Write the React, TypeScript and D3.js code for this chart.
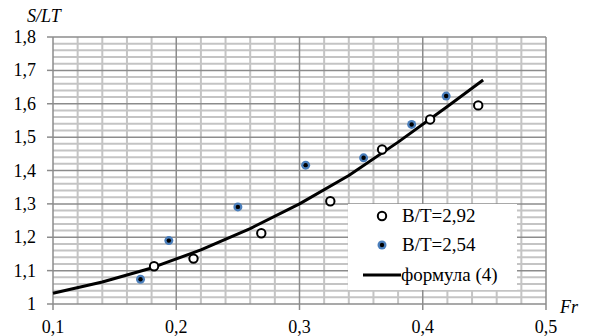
import React from "react";
import * as d3 from "d3";

const xTicks = [0.1, 0.2, 0.3, 0.4, 0.5];
const yTicks = [1, 1.1, 1.2, 1.3, 1.4, 1.5, 1.6, 1.7, 1.8];
const xTickLabels = ["0,1", "0,2", "0,3", "0,4", "0,5"];
const yTickLabels = ["1", "1,1", "1,2", "1,3", "1,4", "1,5", "1,6", "1,7", "1,8"];

const s292Fr = [0.182, 0.214, 0.269, 0.325, 0.367, 0.406, 0.445];
const s292Val = [1.113, 1.136, 1.212, 1.308, 1.463, 1.553, 1.595];

const s254Fr = [0.171, 0.194, 0.25, 0.305, 0.352, 0.391, 0.419];
const s254Val = [1.074, 1.19, 1.291, 1.416, 1.438, 1.538, 1.623];

const fFr = [0.1, 0.14, 0.18, 0.22, 0.26, 0.3, 0.34, 0.38, 0.42, 0.449];
const fVal = [1.032, 1.066, 1.108, 1.162, 1.226, 1.3, 1.385, 1.485, 1.592, 1.671];

const W = 590, H = 336;
const FONT = `"Liberation Serif"`;

export default function App() {
  const x = d3.scaleLinear().domain([0.1, 0.5]).range([53, 546]);
  const y = d3.scaleLinear().domain([1, 1.8]).range([304, 37]);

  const minorX = d3.range(0, 21).map((i) => 0.1 + i * 0.02).filter((_, i) => i % 5 !== 0);
  const minorY = d3.range(0, 41).map((i) => 1 + i * 0.02).filter((_, i) => i % 5 !== 0);

  const line = d3
    .line<number>()
    .x((_, i) => x(fFr[i]))
    .y((d) => y(d));

  const legX = 348, legY = 204, legW = 169, legH = 86;
  const tick = { fontFamily: FONT, fontSize: "18px" };
  const ital = { fontFamily: FONT, fontSize: "18px", fontStyle: "italic" };
  const leg = { fontFamily: FONT, fontSize: "19px" };

  return (
    <svg width={W} height={H} style={{ position: "absolute", left: 0, top: 0, display: "block", background: "#fff", fontFamily: FONT }}>
      {minorX.map((v, i) => (
        <line key={"mx" + i} x1={x(v)} x2={x(v)} y1={y(1.8)} y2={y(1)} stroke="#c4c4c4" strokeWidth={2} />
      ))}
      {minorY.map((v, i) => (
        <line key={"my" + i} x1={x(0.1)} x2={x(0.5)} y1={y(v)} y2={y(v)} stroke="#c4c4c4" strokeWidth={2} />
      ))}
      {xTicks.map((v, i) => (
        <line key={"gx" + i} x1={x(v)} x2={x(v)} y1={y(1.8)} y2={y(1)} stroke="#8c8c8c" strokeWidth={1.5} />
      ))}
      {yTicks.map((v, i) => (
        <line key={"gy" + i} x1={x(0.1)} x2={x(0.5)} y1={y(v)} y2={y(v)} stroke="#8c8c8c" strokeWidth={1.5} />
      ))}
      {yTicks.map((v, i) => (
        <line key={"ty" + i} x1={x(0.1) - 6} x2={x(0.1)} y1={y(v)} y2={y(v)} stroke="#8c8c8c" strokeWidth={1.5} />
      ))}
      {xTicks.map((v, i) => (
        <line key={"tx" + i} x1={x(v)} x2={x(v)} y1={y(1)} y2={y(1) + 6} stroke="#8c8c8c" strokeWidth={1.5} />
      ))}
      {yTicks.map((v, i) => (
        <text key={"ly" + i} x={36} y={y(v) + 6} textAnchor="end" style={tick} fill="#000">
          {yTickLabels[i]}
        </text>
      ))}
      {xTicks.map((v, i) => (
        <text key={"lx" + i} x={x(v)} y={333} textAnchor="middle" style={tick} fill="#000">
          {xTickLabels[i]}
        </text>
      ))}
      <text x={27} y={22} style={ital} fill="#000">S/LT</text>
      <text x={560} y={313} style={ital} fill="#000">Fr</text>

      <path d={line(fVal) || ""} fill="none" stroke="#000" strokeWidth={3} strokeLinejoin="round" />

      {s254Val.map((v, i) => (
        <g key={"b" + i}>
          <circle cx={x(s254Fr[i])} cy={y(v)} r={4.5} fill="#4a7ebb" />
          <circle cx={x(s254Fr[i])} cy={y(v)} r={2.2} fill="#000" />
        </g>
      ))}
      {s292Val.map((v, i) => (
        <circle key={"o" + i} cx={x(s292Fr[i])} cy={y(v)} r={4.2} fill="#fff" stroke="#000" strokeWidth={2} />
      ))}

      <rect x={legX} y={legY} width={legW} height={legH} fill="#fff" />
      <circle cx={382} cy={216} r={4.2} fill="#fff" stroke="#000" strokeWidth={2} />
      <text x={402} y={222} style={leg} fill="#000">B/T=2,92</text>
      <circle cx={382} cy={245} r={4.5} fill="#4a7ebb" />
      <circle cx={382} cy={245} r={2.2} fill="#000" />
      <text x={402} y={251} style={leg} fill="#000">B/T=2,54</text>
      <line x1={363} x2={401} y1={275} y2={275} stroke="#000" strokeWidth={3} />
      <text x={401} y={281} style={leg} fill="#000">формула (4)</text>
    </svg>
  );
}
